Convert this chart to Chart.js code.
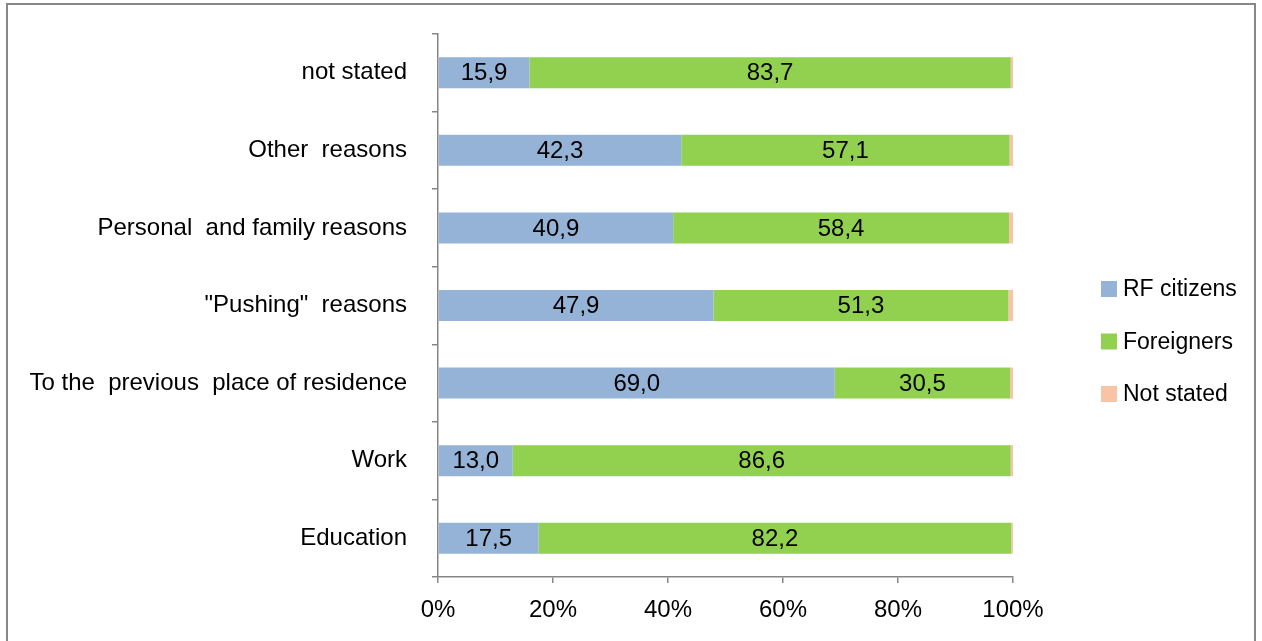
<!DOCTYPE html>
<html>
<head>
<meta charset="utf-8">
<script src="https://cdn.jsdelivr.net/npm/chart.js@4"></script>
<style>
html,body{margin:0;padding:0;background:#fff;}
#frame{position:absolute;left:6px;top:3px;width:1246px;height:700px;border:2px solid #878787;border-bottom:none;}
#wrap{position:absolute;left:0;top:0;width:1262px;height:641px;}
</style>
</head>
<body>
<div id="frame"></div>
<div id="wrap"><canvas id="migChart" width="1262" height="641"></canvas></div>
<script>
let categories = ['not stated','Other  reasons','Personal  and family reasons','"Pushing"  reasons','To the  previous  place of residence','Work','Education'];
let rfCitizens = [15.9,42.3,40.9,47.9,69.0,13.0,17.5];
let foreigners = [83.7,57.1,58.4,51.3,30.5,86.6,82.2];
let notStated = [0.4,0.6,0.7,0.8,0.5,0.4,0.3];
let xTicks = [0,20,40,60,80,100];

let fontFam = '"Liberation Sans", Arial, sans-serif';
let axisGrey = '#868686';

/* value labels in the middle of the first two segments */
let valueLabels = {
id:'valueLabels',
afterDatasetsDraw(chart){
let ctx = chart.ctx;
ctx.save();
ctx.font = '24px ' + fontFam;
ctx.fillStyle = '#000';
ctx.textAlign = 'center';
ctx.textBaseline = 'middle';
[0,1].forEach(function(di){
let meta = chart.getDatasetMeta(di);
meta.data.forEach(function(bar,i){
let v = chart.data.datasets[di].data[i];
let cx = (bar.x + bar.base) / 2;
ctx.fillText(v.toFixed(1).replace('.',','), cx, bar.y + 1);
});
});
ctx.restore();
}
};

/* legend on the right, drawn by hand */
let sideLegend = {
id:'sideLegend',
afterDraw(chart){
let ctx = chart.ctx;
ctx.save();
ctx.font = '23px ' + fontFam;
ctx.textBaseline = 'middle';
ctx.textAlign = 'left';
chart.data.datasets.forEach(function(ds,i){
let cy = 289 + i*52.5;
ctx.fillStyle = ds.backgroundColor;
ctx.fillRect(1101, cy-8, 16, 16);
ctx.fillStyle = '#000';
ctx.fillText(ds.label, 1123, cy + 1);
});
ctx.restore();
}
};

let ctx = document.getElementById('migChart').getContext('2d');

new Chart(ctx,{
type:'bar',
data:{
labels:categories,
datasets:[
{label:'RF citizens', data:rfCitizens, backgroundColor:'#95B3D7'},
{label:'Foreigners', data:foreigners, backgroundColor:'#92D050'},
{label:'Not stated', data:notStated, backgroundColor:'#F9C3A6'}
]
},
options:{
indexAxis:'y',
responsive:false,
animation:false,
layout:{padding:{top:34,left:0,right:249,bottom:0}},
datasets:{bar:{categoryPercentage:0.4,barPercentage:1,borderWidth:0}},
plugins:{legend:{display:false},tooltip:{enabled:false}},
scales:{
x:{
stacked:true,
min:0,max:100,
afterBuildTicks(scale){ scale.ticks = xTicks.map(v => ({value:v})); },
afterFit(scale){ scale.height = 64; },
grid:{drawOnChartArea:false,drawTicks:true,tickLength:6,color:axisGrey,lineWidth:1.5},
border:{display:true,color:axisGrey,width:1.5},
ticks:{callback:v => v + '%',color:'#000',font:{family:fontFam,size:24},padding:13,maxRotation:0}
},
y:{
stacked:true,
afterFit(scale){ scale.width = 438; scale.paddingTop = 0; scale.paddingBottom = 0; },
grid:{drawOnChartArea:false,drawTicks:true,tickLength:6,color:axisGrey,lineWidth:1.5,offset:true},
border:{display:true,color:axisGrey,width:1.5},
ticks:{color:'#000',font:{family:fontFam,size:24},padding:25}
}
}
},
plugins:[valueLabels,sideLegend]
});
</script>
</body>
</html>
